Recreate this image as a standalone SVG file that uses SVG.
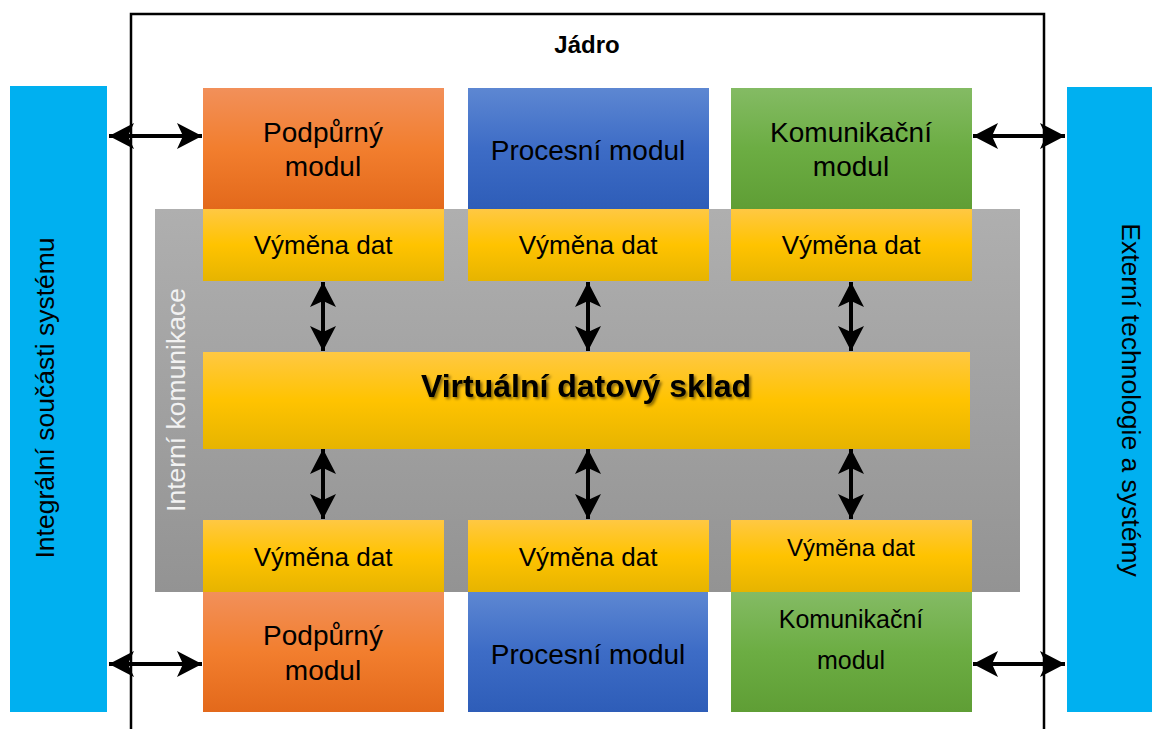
<svg xmlns="http://www.w3.org/2000/svg" width="1152" height="729" viewBox="0 0 1152 729">
<defs>
<linearGradient id="gOrange" x1="0" y1="0" x2="0" y2="1"><stop offset="0" stop-color="#f2905a"/><stop offset="0.5" stop-color="#f27e2e"/><stop offset="1" stop-color="#e3691b"/></linearGradient>
<linearGradient id="gBlue" x1="0" y1="0" x2="0" y2="1"><stop offset="0" stop-color="#5d87d2"/><stop offset="0.5" stop-color="#3d6cc6"/><stop offset="1" stop-color="#2e5db8"/></linearGradient>
<linearGradient id="gGreen" x1="0" y1="0" x2="0" y2="1"><stop offset="0" stop-color="#84bb64"/><stop offset="0.5" stop-color="#6cad43"/><stop offset="1" stop-color="#5f9e35"/></linearGradient>
<linearGradient id="gYellow" x1="0" y1="0" x2="0" y2="1"><stop offset="0" stop-color="#ffc843"/><stop offset="0.5" stop-color="#ffc300"/><stop offset="1" stop-color="#e6b400"/></linearGradient>
<linearGradient id="gGray" x1="0" y1="0" x2="0" y2="1"><stop offset="0" stop-color="#afafaf"/><stop offset="1" stop-color="#939393"/></linearGradient>
<marker id="ah" viewBox="-26 -14 28 28" refX="0" refY="0" markerWidth="28" markerHeight="28" markerUnits="userSpaceOnUse" orient="auto-start-reverse">
<path d="M0,0 L-25,-13 L-19,0 L-25,13 Z" fill="#000"/>
</marker>
<filter id="shadow" x="-5%" y="-20%" width="110%" height="150%">
<feGaussianBlur in="SourceAlpha" stdDeviation="1.5"/>
<feOffset dx="2" dy="2" result="b"/>
<feComponentTransfer><feFuncA type="linear" slope="0.5"/></feComponentTransfer>
<feMerge><feMergeNode/><feMergeNode in="SourceGraphic"/></feMerge>
</filter>
</defs>
<style>
text{font-family:"Liberation Sans",Arial,sans-serif;fill:#000;text-anchor:middle}
.mod{font-size:28px}
.vd{font-size:26px}
.side{font-size:26.5px}
.conn{stroke:#000;stroke-width:4;fill:none;marker-start:url(#ah);marker-end:url(#ah)}
</style>
<rect width="1152" height="729" fill="#fff"/>

<g id="jadro">
<path d="M131,729 V14 H1044 V729" fill="none" stroke="#000" stroke-width="2.5"/>
<text x="587" y="53" style="font-size:24px;font-weight:bold">Jádro</text>
</g>

<g id="integralni">
<rect x="10" y="86" width="97" height="626" fill="#00b0f0"/>
<text transform="translate(54,398) rotate(-90)" class="side">Integrální součásti systému</text>
</g>

<g id="externi">
<rect x="1067" y="87" width="85" height="625" fill="#00b0f0"/>
<text transform="translate(1122,400) rotate(90)" class="side">Externí technologie a systémy</text>
</g>

<g id="interni">
<rect x="155" y="209" width="865" height="383" fill="url(#gGray)"/>
<text transform="translate(185,400) rotate(-90)" class="side" style="fill:#f2f2f2">Interní komunikace</text>
</g>

<g id="podpurny-top">
<rect x="203" y="88" width="241" height="121" fill="url(#gOrange)"/>
<text x="323" y="142" class="mod">Podpůrný</text>
<text x="323" y="176" class="mod">modul</text>
</g>
<g id="procesni-top">
<rect x="468" y="88" width="241" height="121" fill="url(#gBlue)"/>
<text x="588" y="160" class="mod">Procesní modul</text>
</g>
<g id="komunikacni-top">
<rect x="731" y="88" width="241" height="121" fill="url(#gGreen)"/>
<text x="851" y="142" class="mod">Komunikační</text>
<text x="851" y="176" class="mod">modul</text>
</g>

<g id="vymena-top-1">
<rect x="203" y="209" width="241" height="72" fill="url(#gYellow)"/>
<text x="323" y="254" class="vd">Výměna dat</text>
</g>
<g id="vymena-top-2">
<rect x="468" y="209" width="241" height="72" fill="url(#gYellow)"/>
<text x="588" y="254" class="vd">Výměna dat</text>
</g>
<g id="vymena-top-3">
<rect x="731" y="209" width="241" height="72" fill="url(#gYellow)"/>
<text x="851" y="254" class="vd">Výměna dat</text>
</g>

<g id="virtualni-sklad">
<rect x="203" y="352" width="767" height="97" fill="url(#gYellow)"/>
<text x="586" y="397" style="font-size:32px;font-weight:bold" filter="url(#shadow)">Virtuální datový sklad</text>
</g>

<g id="vymena-bottom-1">
<rect x="203" y="520" width="241" height="72" fill="url(#gYellow)"/>
<text x="323" y="566" class="vd">Výměna dat</text>
</g>
<g id="vymena-bottom-2">
<rect x="468" y="520" width="241" height="72" fill="url(#gYellow)"/>
<text x="588" y="566" class="vd">Výměna dat</text>
</g>
<g id="vymena-bottom-3">
<rect x="731" y="520" width="241" height="72" fill="url(#gYellow)"/>
<text x="851" y="556" style="font-size:24px">Výměna dat</text>
</g>

<g id="podpurny-bottom">
<rect x="203" y="592" width="241" height="120" fill="url(#gOrange)"/>
<text x="323" y="645" class="mod">Podpůrný</text>
<text x="323" y="680" class="mod">modul</text>
</g>
<g id="procesni-bottom">
<rect x="468" y="592" width="240" height="120" fill="url(#gBlue)"/>
<text x="588" y="664" class="mod">Procesní modul</text>
</g>
<g id="komunikacni-bottom">
<rect x="731" y="592" width="241" height="120" fill="url(#gGreen)"/>
<text x="851" y="628" style="font-size:25px">Komunikační</text>
<text x="851" y="669" style="font-size:25px">modul</text>
</g>

<g id="connectors">
<line class="conn" x1="109" y1="136" x2="202" y2="136"/>
<line class="conn" x1="109" y1="664" x2="202" y2="664"/>
<line class="conn" x1="973" y1="136" x2="1065" y2="136"/>
<line class="conn" x1="973" y1="664" x2="1065" y2="664"/>
<line class="conn" x1="323" y1="282" x2="323" y2="351"/>
<line class="conn" x1="588" y1="282" x2="588" y2="351"/>
<line class="conn" x1="851" y1="282" x2="851" y2="351"/>
<line class="conn" x1="323" y1="449" x2="323" y2="519"/>
<line class="conn" x1="588" y1="449" x2="588" y2="519"/>
<line class="conn" x1="851" y1="449" x2="851" y2="519"/>
</g>
</svg>
